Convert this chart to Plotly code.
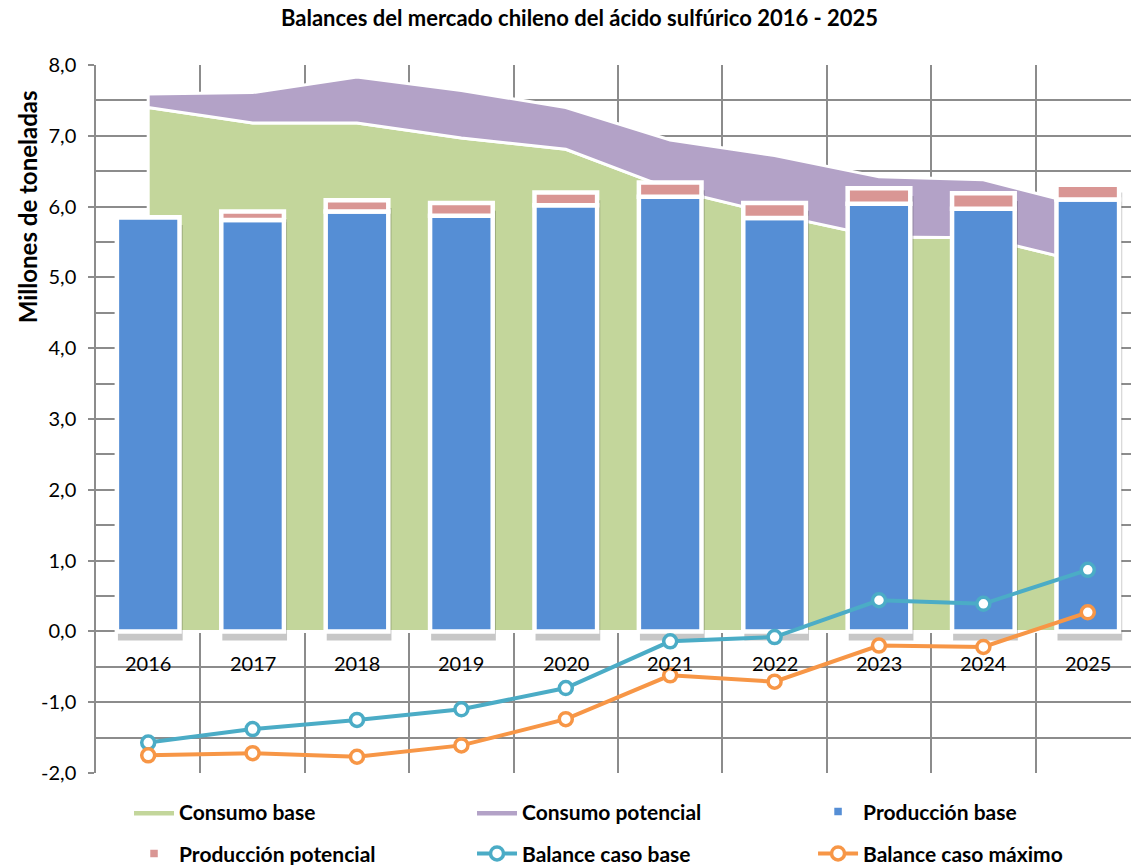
import plotly.graph_objects as go

# ---------------- data ----------------
years = ["2016", "2017", "2018", "2019", "2020", "2021", "2022", "2023", "2024", "2025"]
consumo_base = [7.40, 7.18, 7.18, 6.97, 6.81, 6.25, 5.89, 5.57, 5.56, 5.20]
consumo_potencial = [0.19, 0.43, 0.65, 0.67, 0.59, 0.69, 0.83, 0.85, 0.82, 0.80]
produccion_base = [5.85, 5.81, 5.93, 5.87, 6.02, 6.14, 5.84, 6.04, 5.97, 6.10]
produccion_potencial = [0.00, 0.12, 0.16, 0.18, 0.18, 0.20, 0.21, 0.22, 0.22, 0.21]
balance_caso_base = [-1.57, -1.38, -1.25, -1.10, -0.80, -0.14, -0.08, 0.44, 0.39, 0.87]
balance_caso_maximo = [-1.75, -1.72, -1.77, -1.61, -1.24, -0.62, -0.71, -0.20, -0.22, 0.27]
y_ticks = [-2, -1, 0, 1, 2, 3, 4, 5, 6, 7, 8]
y_tick_labels = ["-2,0", "-1,0", "0,0", "1,0", "2,0", "3,0", "4,0", "5,0", "6,0", "7,0", "8,0"]

title_text = "Balances del mercado chileno del ácido sulfúrico 2016 - 2025"
y_title = "Millones de toneladas"

# ---------------- derived ----------------
x = list(range(len(years)))
consumo_total = [a + b for a, b in zip(consumo_base, consumo_potencial)]
produccion_total = [a + b for a, b in zip(produccion_base, produccion_potencial)]

GREEN = "#C3D69B"
PURPLE = "#B3A2C7"
BLUE = "#558ED5"
PINK = "#D99694"
TEAL = "#4BACC6"
ORANGE = "#F79646"
GRID = "#8C8C8C"
FONT = "Lato"

fig = go.Figure()

# Areas (main subplot, drawn underneath)
fig.add_trace(go.Scatter(
    x=x + [x[-1], x[0], x[0]],
    y=consumo_base + [0, 0, consumo_base[0]],
    fill="toself", fillcolor=GREEN, mode="lines",
    line=dict(color="white", width=3),
    name="Consumo base", legend="legend", hoverinfo="skip",
))
fig.add_trace(go.Scatter(
    x=x + x[::-1] + [x[0]],
    y=consumo_total + consumo_base[::-1] + [consumo_total[0]],
    fill="toself", fillcolor=PURPLE, mode="lines",
    line=dict(color="white", width=3),
    name="Consumo potencial", legend="legend2", hoverinfo="skip",
))

# Bar shadow
fig.add_trace(go.Bar(
    x=[v + 0.02 for v in x],
    y=[t + 0.02 for t in produccion_total],
    base=[-0.13] * len(x),
    width=0.62,
    marker=dict(color="rgba(0,0,0,0.22)", line=dict(width=0)),
    yaxis="y2", showlegend=False, hoverinfo="skip",
))
# Bars (overlay subplot, drawn above areas)
fig.add_trace(go.Bar(
    x=x, y=produccion_base, width=0.6,
    marker=dict(color=BLUE, line=dict(color="white", width=4.5)),
    name="Producción base", yaxis="y2", legend="legend3",
))
fig.add_trace(go.Bar(
    x=x, y=produccion_potencial, base=produccion_base, width=0.6,
    marker=dict(color=PINK, line=dict(color="white", width=4.5)),
    name="Producción potencial", yaxis="y2", legend="legend4",
))

# Lines
fig.add_trace(go.Scatter(
    x=x, y=balance_caso_base, mode="lines+markers",
    line=dict(color=TEAL, width=4),
    marker=dict(size=13, color="white", line=dict(color=TEAL, width=3.5)),
    name="Balance caso base", yaxis="y2", legend="legend5",
))
fig.add_trace(go.Scatter(
    x=x, y=balance_caso_maximo, mode="lines+markers",
    line=dict(color=ORANGE, width=4),
    marker=dict(size=13, color="white", line=dict(color=ORANGE, width=3.5)),
    name="Balance caso máximo", yaxis="y2", legend="legend6",
))

# Year labels sitting just below the zero line
annotations = []
for xi, label in zip(x, years):
    annotations.append(dict(
        x=xi, y=-0.45, xref="x", yref="y", text=label, showarrow=False,
        font=dict(family=FONT, size=20, color="black"),
    ))
annotations.append(dict(
    x=-0.066, y=0.80, xref="paper", yref="paper", text=f"<b>{y_title}</b>",
    textangle=-90, showarrow=False, xanchor="center", yanchor="middle",
    font=dict(family=FONT, size=24, color="black"),
))
annotations.append(dict(
    x=0.4676, y=1.0664, xref="paper", yref="paper", text=f"<b>{title_text}</b>",
    showarrow=False, xanchor="center", yanchor="middle",
    font=dict(family=FONT, size=22, color="black"),
))

legend_common = dict(
    orientation="h", xanchor="left", yanchor="top",
    font=dict(family=FONT, size=21, color="black", weight="bold"),
    bgcolor="rgba(0,0,0,0)", itemwidth=40,
)
col_x = [0.0319, 0.3633, 0.6928]
row_y = [-0.0258, -0.0852]
legends = {}
for i in range(6):
    key = "legend" if i == 0 else f"legend{i + 1}"
    legends[key] = dict(x=col_x[i % 3], y=row_y[i // 3], **legend_common)

fig.update_layout(
    width=1131, height=865,
    margin=dict(l=96, r=0, t=65, b=92, autoexpand=False),
    paper_bgcolor="white", plot_bgcolor="white",
    barmode="overlay",
    showlegend=True,
    annotations=annotations,
    xaxis=dict(
        range=[-0.5, 9.414],
        tickvals=[v + 0.5 for v in x[:-1]],
        showticklabels=False, ticks="",
        showgrid=True, gridcolor=GRID, gridwidth=1.5,
        zeroline=False, showline=False, fixedrange=True,
    ),
    yaxis=dict(
        range=[-2, 8], tickvals=y_ticks, ticktext=y_tick_labels,
        showgrid=True, gridcolor=GRID, gridwidth=1.5,
        minor=dict(dtick=0.5, showgrid=True, gridcolor=GRID, gridwidth=1.5),
        ticks="outside", ticklen=6, tickcolor=GRID, tickwidth=1.5,
        ticklabelstandoff=8,
        showline=True, linecolor=GRID, linewidth=1.5,
        zeroline=False,
        tickfont=dict(family=FONT, size=20, color="black"),
    ),
    yaxis2=dict(
        range=[-2, 8], overlaying="y", visible=False, showgrid=False,
    ),
    **legends,
)

fig.write_html("out.html")
